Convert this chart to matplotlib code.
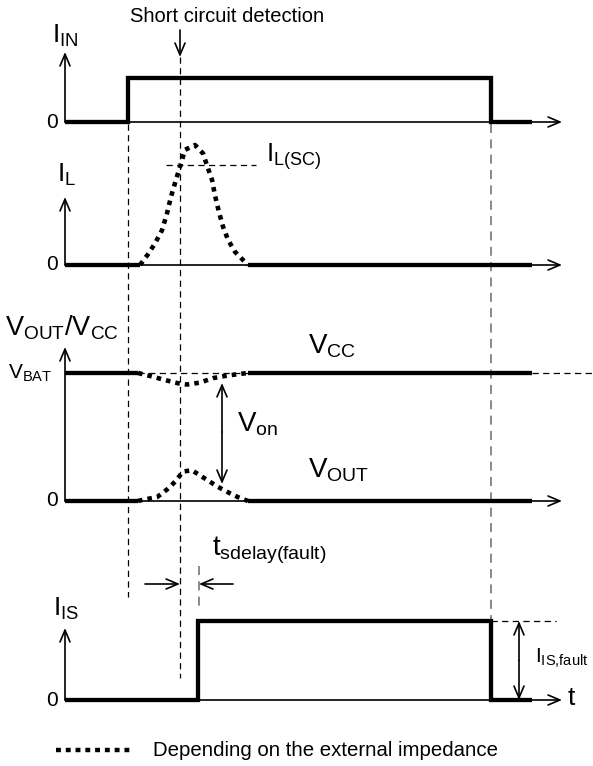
import numpy as np
import matplotlib.pyplot as plt

plt.rcParams['font.family'] = ['Liberation Sans', 'DejaVu Sans']
plt.rcParams['mathtext.fontset'] = 'custom'
plt.rcParams['mathtext.rm'] = 'Liberation Sans'
plt.rcParams['mathtext.it'] = 'Liberation Sans'
plt.rcParams['mathtext.sf'] = 'Liberation Sans'

# Time instants along the diagram's time axis
t_start = 65
t_on = 128
t_detect = 180
t_flag = 198
t_off = 491
t_stop = 532
t_axis_end = 562

# I_IN: input signal (0 / 1)
in_t = [t_start, t_on, t_on, t_off, t_off, t_stop]
in_lvl = [0, 0, 1, 1, 0, 0]

# I_L: load current, short circuit pulse (level 1 = peak)
il_solid_left = [t_start, 140]
il_solid_right = [248, t_stop]
il_pulse_t = [140, 148, 155, 162, 167, 171, 176, 180, 185, 195,
              203, 207, 212, 215, 219, 223, 228, 235, 242, 248]
il_pulse_lvl = [0.0, 0.09, 0.18, 0.29, 0.43, 0.57, 0.71, 0.82, 0.96, 1.0,
                0.93, 0.83, 0.71, 0.58, 0.44, 0.32, 0.21, 0.11, 0.05, 0.0]
il_sc_lvl = 0.83

# V_CC and V_OUT (level 1 = V_BAT)
v_solid_left = [t_start, 138]
v_solid_right = [248, t_stop]
vcc_dip_t = [138, 150, 165, 178, 187, 200, 213, 225, 237, 248]
vcc_dip_lvl = [1.0, 0.977, 0.945, 0.92, 0.91, 0.925, 0.96, 0.977, 0.99, 1.0]
vout_bump_t = [138, 143, 157, 167, 175, 183, 192, 200, 208, 218, 230, 238, 248]
vout_bump_lvl = [0.0, 0.01, 0.03, 0.09, 0.15, 0.23, 0.24, 0.2, 0.16, 0.11, 0.06, 0.03, 0.0]
von_t = 222

# I_IS: sense current (level 1 = I_IS,fault)
is_t = [t_start, t_flag, t_flag, t_off, t_off, t_stop]
is_lvl = [0, 0, 1, 1, 0, 0]
is_fault_t = 519

# Panel layout: baseline pixel row, amplitude in pixels, axis arrow tip row
panels = {
    'in': (122, 44, 52),
    'il': (265, 120, 197),
    'v': (501, 128, 347),
    'is': (700, 79, 628),
}

THICK = 3.1
DOT = (0, (1, 1.1))
DASH = (0, (5, 3.5))

fig = plt.figure(figsize=(5.93, 7.66), dpi=100)
ax = fig.add_axes([0, 0, 1, 1])
ax.set_xlim(0, 593)
ax.set_ylim(766, 0)
ax.axis('off')


def ypix(panel, lvl):
    base, amp, _ = panels[panel]
    return base - amp * np.asarray(lvl, dtype=float)


def arrow(x0, y0, x1, y1, style='->'):
    ax.annotate('', xy=(x1, y1), xytext=(x0, y0),
                arrowprops=dict(arrowstyle=f'{style},head_length=8.5,head_width=3.6',
                                lw=1.2, color='black', shrinkA=0, shrinkB=0,
                                mutation_scale=1))


def thick(x, y):
    ax.plot(x, y, color='black', lw=THICK, solid_joinstyle='miter',
            solid_capstyle='butt', zorder=3)


def dotted(x, y):
    ax.plot(x, y, color='black', lw=3.3, linestyle=DOT,
            dash_capstyle='butt', zorder=3)


def dashed(x, y, color='black', lw=0.9):
    ax.plot(x, y, color=color, lw=lw, linestyle=DASH, zorder=1)


# Axes of every panel
for key, (base, amp, tip) in panels.items():
    arrow(t_start, base, t_axis_end, base)
    arrow(t_start, base, t_start, tip)
    ax.text(58, base, '0', ha='right', va='center', fontsize=15)

# Vertical reference lines
dashed([t_on, t_on], [124, 597])
dashed([t_detect, t_detect], [57, 678])
dashed([t_off, t_off], [124, 620], color='#808080', lw=1.3)
dashed([t_flag + 1, t_flag + 1], [566, 612], color='#808080', lw=1.3)

# I_IN panel
thick(in_t, ypix('in', in_lvl))
ax.text(130, 17, 'Short circuit detection', ha='left', va='center', fontsize=14.5)
arrow(t_detect, 30, t_detect, 57)
ax.text(52, 43, r'$\mathrm{I_{IN}}$', ha='left', va='baseline', fontsize=19)

# I_L panel
thick(il_solid_left, ypix('il', [0, 0]))
thick(il_solid_right, ypix('il', [0, 0]))
dotted(il_pulse_t, ypix('il', il_pulse_lvl))
dashed([166, 256], ypix('il', [il_sc_lvl, il_sc_lvl]))
ax.text(266, 162, r'$\mathrm{I_{L(SC)}}$', ha='left', va='baseline', fontsize=18.5)
ax.text(57, 182, r'$\mathrm{I_L}$', ha='left', va='baseline', fontsize=19)

# V_OUT / V_CC panel
thick(v_solid_left, ypix('v', [1, 1]))
thick(v_solid_right, ypix('v', [1, 1]))
thick(v_solid_left, ypix('v', [0, 0]))
thick(v_solid_right, ypix('v', [0, 0]))
dashed([138, 248], ypix('v', [1, 1]))
dashed([t_stop, 593], ypix('v', [1, 1]))
dotted(vcc_dip_t, ypix('v', vcc_dip_lvl))
dotted(vout_bump_t, ypix('v', vout_bump_lvl))
arrow(von_t, 432, von_t, 383)
arrow(von_t, 432, von_t, 484)
ax.text(5, 335, r'$\mathrm{V_{OUT}/V_{CC}}$', ha='left', va='baseline', fontsize=19.5)
ax.text(8, 379, r'$\mathrm{V_{BAT}}$', ha='left', va='baseline', fontsize=15)
ax.text(308, 353, r'$\mathrm{V_{CC}}$', ha='left', va='baseline', fontsize=20)
ax.text(237, 432, r'$\mathrm{V_{on}}$', ha='left', va='baseline', fontsize=20)
ax.text(308, 477, r'$\mathrm{V_{OUT}}$', ha='left', va='baseline', fontsize=20)

# t_sdelay(fault)
ax.text(212, 555, r'$\mathrm{t_{sdelay(fault)}}$', ha='left', va='baseline', fontsize=20)
arrow(145, 584, t_detect, 584)
arrow(233, 584, t_flag + 1, 584)

# I_IS panel
thick(is_t, ypix('is', is_lvl))
dashed([t_off, 556], ypix('is', [1, 1]))
base_is = panels['is'][0]
top_is = ypix('is', 1)
arrow(is_fault_t, (base_is + top_is) / 2, is_fault_t, top_is)
arrow(is_fault_t, (base_is + top_is) / 2, is_fault_t, base_is)
ax.text(535, 663, r'$\mathrm{I_{IS{,}fault}}$', ha='left', va='baseline', fontsize=15)
ax.text(53, 616, r'$\mathrm{I_{IS}}$', ha='left', va='baseline', fontsize=19)
ax.text(568, 705, 't', ha='left', va='baseline', fontsize=19)

# Legend
ax.plot([56, 133], [750, 750], color='black', lw=3.2, linestyle=(0, (1.1, 1.1)),
        dash_capstyle='butt')
ax.text(153, 750, 'Depending on the external impedance', ha='left', va='center', fontsize=14.7)

fig.savefig('out.png', dpi=100)
